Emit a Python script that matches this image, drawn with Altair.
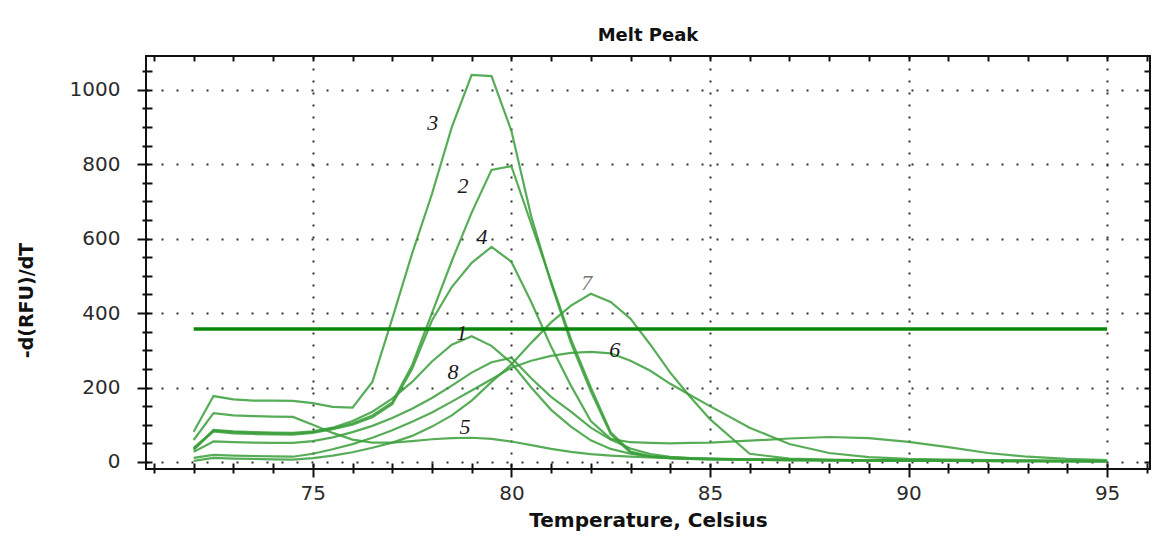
import altair as alt
import pandas as pd

# ---- data ----
TEMPS = [72, 72.5, 73, 73.5, 74, 74.5, 75, 75.5, 76, 76.5, 77, 77.5, 78, 78.5,
         79, 79.5, 80, 80.5, 81, 81.5, 82, 82.5, 83, 83.5, 84, 84.5, 85, 86, 87,
         88, 89, 90, 91, 92, 93, 94, 95]

CURVE_1 = [32, 86, 82, 80, 79, 78, 82, 92, 110, 135, 170, 215, 270, 315, 338, 312, 266, 200, 140,
           95, 58, 35, 22, 15, 12, 10, 9, 7, 6, 5, 4, 4, 3, 3, 3, 2, 2]
CURVE_2 = [38, 84, 80, 78, 77, 76, 80, 90, 104, 125, 160, 260, 400, 540, 670, 785, 795, 640, 485,
           330, 200, 80, 28, 15, 10, 8, 7, 6, 5, 4, 4, 3, 3, 3, 2, 2, 2]
CURVE_3 = [81, 177, 168, 165, 165, 164, 158, 148, 146, 215, 385, 560, 720, 900, 1040, 1037, 890,
           660, 480, 320, 190, 75, 25, 14, 10, 8, 7, 6, 5, 5, 4, 4, 3, 3, 3, 2, 2]
CURVE_4 = [35, 82, 77, 75, 74, 73, 78, 88, 100, 120, 155, 250, 380, 470, 535, 578, 538, 430, 310,
           205, 110, 62, 53, 51, 50, 51, 52, 57, 63, 67, 64, 54, 40, 24, 14, 8, 5]
CURVE_5 = [59, 131, 125, 123, 122, 121, 100, 78, 60, 52, 52, 56, 61, 64, 65, 62, 55, 45, 35,
           27, 21, 17, 14, 12, 10, 9, 8, 7, 6, 5, 5, 4, 4, 3, 3, 3, 2]
CURVE_6 = [11, 19, 17, 16, 15, 14, 22, 34, 48, 65, 85, 108, 133, 162, 192, 222, 253, 272, 285,
           293, 296, 292, 272, 245, 210, 180, 150, 92, 48, 24, 13, 8, 6, 5, 4, 3, 2]
CURVE_7 = [3, 11, 9, 8, 7, 6, 10, 17, 26, 38, 52, 70, 95, 125, 165, 215, 262, 320, 375,
           420, 452, 430, 385, 315, 240, 175, 115, 22, 9, 6, 4, 3, 3, 2, 2, 2, 2]
CURVE_8 = [27, 55, 53, 52, 51, 51, 56, 66, 80, 97, 118, 143, 172, 205, 240, 268, 280, 225, 175,
           135, 92, 60, 36, 21, 14, 10, 8, 6, 5, 4, 4, 3, 3, 3, 2, 2, 2]

CURVE_NAMES = ["1", "2", "3", "4", "5", "6", "7", "8"]
CURVES = [CURVE_1, CURVE_2, CURVE_3, CURVE_4, CURVE_5, CURVE_6, CURVE_7, CURVE_8]

LABEL_TEXT = ["1", "2", "3", "4", "5", "6", "7", "8"]
LABEL_T = [78.75, 78.78, 78.02, 79.26, 78.83, 82.6, 81.9, 78.53]
LABEL_V = [347, 742, 911, 605, 94, 301, 481, 242]

THRESHOLD_V = 357
THRESHOLD_T = [72, 95]

X_DOMAIN = [70.8, 96.08]
Y_DOMAIN = [-19, 1091]
X_TICKS = list(range(71, 97))
Y_TICKS = list(range(0, 1051, 50))

# ---- tables ----
rows = []
for name, vals in zip(CURVE_NAMES, CURVES):
    for t, v in zip(TEMPS, vals):
        rows.append({"curve": name, "t": t, "v": v})
curves_df = pd.DataFrame(rows)
labels_df = pd.DataFrame({"text": LABEL_TEXT, "t": LABEL_T, "v": LABEL_V,
                          "shade": ["d", "d", "d", "d", "d", "d", "l", "d"]})
thr_df = pd.DataFrame({"t": [THRESHOLD_T[0]], "t2": [THRESHOLD_T[1]], "v": [THRESHOLD_V]})

xs = alt.Scale(domain=X_DOMAIN, nice=False, zero=False)
ys = alt.Scale(domain=Y_DOMAIN, nice=False, zero=False)

FONT = "DejaVu Sans"
x_major = "datum.value % 5 === 0"
y_major = "datum.value % 200 === 0"

x_axis = alt.Axis(
    values=X_TICKS, orient="bottom", offset=-6, domain=False,
    tickColor="#111", tickWidth=2,
    tickSize={"condition": {"test": x_major, "value": 14}, "value": 10},
    labelExpr=f"{x_major} ? datum.label : ''", labelOverlap=False, labelFlush=False,
    labelFont=FONT, labelFontSize=20, labelColor="#2b2b2b", labelPadding=6,
    grid=True, gridColor="#333", gridWidth=2, gridDash=[2, 10],
    gridOpacity={"condition": {"test": x_major, "value": 1}, "value": 0},
    title="Temperature, Celsius", titleFont=FONT, titleFontSize=20,
    titleFontWeight="bold", titleColor="#111", titlePadding=7,
)
y_axis = alt.Axis(
    values=Y_TICKS, orient="left", offset=-6, domain=False, format="d",
    tickColor="#111", tickWidth=2,
    tickSize={"condition": {"test": y_major, "value": 15}, "value": 10},
    labelExpr=f"{y_major} ? datum.label : ''", labelOverlap=False, labelFlush=False,
    labelFont=FONT, labelFontSize=20, labelColor="#2b2b2b", labelPadding=17,
    grid=True, gridColor="#333", gridWidth=2, gridDash=[2, 13],
    gridOpacity={"condition": {"test": y_major, "value": 1}, "value": 0},
    title="-d(RFU)/dT", titleFont=FONT, titleFontSize=19, titleFontWeight="bold",
    titleColor="#111", titleX=-116, titleY=244,
)

lines = alt.Chart(curves_df).mark_line(
    color="#3a9f3a", strokeWidth=2.2, opacity=0.85
).encode(
    x=alt.X("t:Q", scale=xs, axis=x_axis),
    y=alt.Y("v:Q", scale=ys, axis=y_axis),
    detail="curve:N",
)

rule = alt.Chart(thr_df).mark_rule(color="#0b870b", strokeWidth=3.5).encode(
    x=alt.X("t:Q", scale=xs, axis=alt.Axis(values=X_TICKS, orient="top", offset=-5,
                                          domain=False, labels=False, grid=False,
                                          tickSize=5, tickWidth=2, tickColor="#111",
                                          title=None)),
    x2="t2:Q",
    y=alt.Y("v:Q", scale=ys, axis=alt.Axis(values=Y_TICKS, orient="right", offset=-6,
                                          domain=False, labels=False, grid=False,
                                          tickSize=6, tickWidth=2, tickColor="#111",
                                          title=None)),
)

labels = alt.Chart(labels_df).mark_text(
    font="Liberation Serif", fontStyle="italic", fontSize=22, align="center", baseline="middle"
).encode(
    x=alt.X("t:Q", scale=xs, axis=None),
    y=alt.Y("v:Q", scale=ys, axis=None),
    text="text:N",
    color=alt.Color("shade:N", scale=alt.Scale(domain=["d", "l"], range=["#1a1a1a", "#777777"]),
                    legend=None),
)

chart = alt.layer(lines, rule, labels).resolve_axis(
    x="independent", y="independent"
).properties(
    width=1004, height=413,
    title=alt.TitleParams("Melt Peak", font=FONT, fontSize=18, fontWeight="bold",
                          color="#111", anchor="middle", baseline="bottom", offset=12, dy=20),
    autosize=alt.AutoSizeParams(type="none"),
    padding={"left": 138, "top": 48, "right": 2, "bottom": 64},
).configure_view(stroke="#111", strokeWidth=2)

chart.save("out.html", embed_options={"renderer": "svg", "actions": False})
